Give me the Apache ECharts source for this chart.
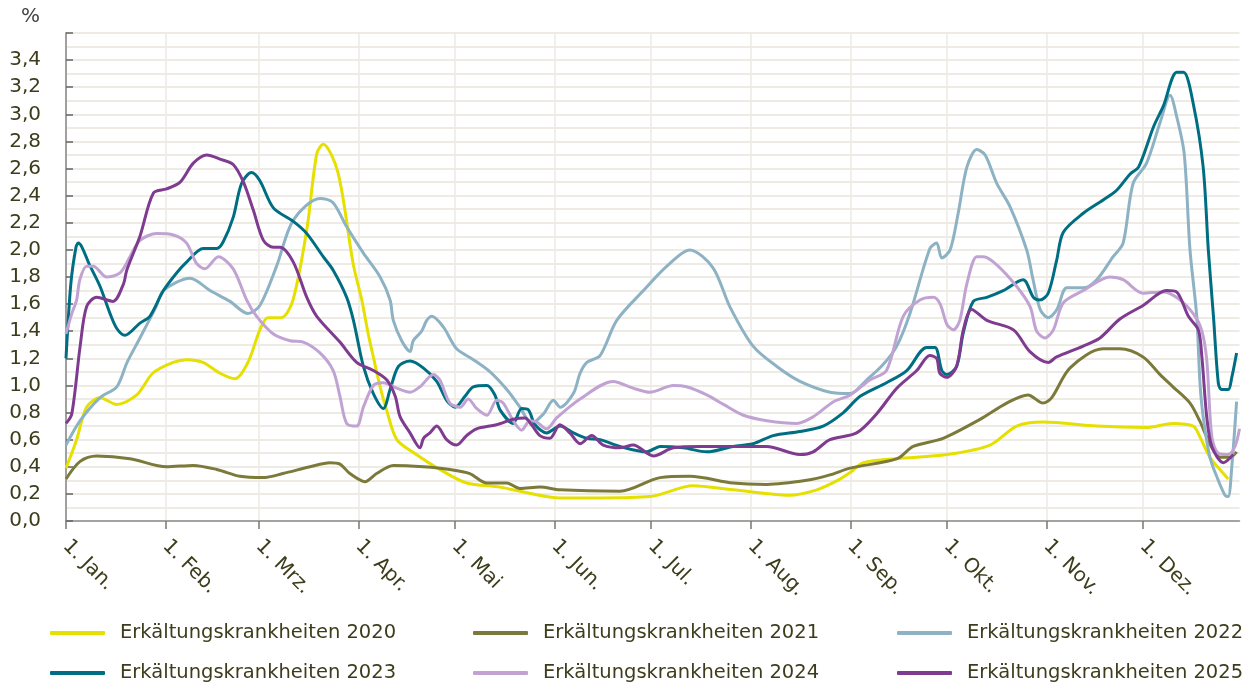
<!DOCTYPE html>
<html>
<head>
<meta charset="utf-8">
<script src="https://cdn.jsdelivr.net/npm/echarts@6/dist/echarts.min.js"></script>
<style>
  html, body { margin: 0; padding: 0; background: #fff; }
  #chart { width: 1254px; height: 690px; }
</style>
</head>
<body>
<div id="chart"></div>
<script>
// x = Tag im Jahr (0 = 1. Jan.), y = Anteil in %
const monthStarts = [0, 31, 60, 91, 121, 152, 182, 213, 244, 274, 305, 335];
const monthLabels = ['1. Jan.', '1. Feb.', '1. Mrz.', '1. Apr.', '1. Mai', '1. Jun.',
  '1. Jul.', '1. Aug.', '1. Sep.', '1. Okt.', '1. Nov.', '1. Dez.'];

const seriesNames = ['Erkältungskrankheiten 2020', 'Erkältungskrankheiten 2021', 'Erkältungskrankheiten 2022',
  'Erkältungskrankheiten 2023', 'Erkältungskrankheiten 2024', 'Erkältungskrankheiten 2025'];
const seriesColors = ['#e5e000', '#7b7a3a', '#8cb2c4', '#006e82', '#c1a3d3', '#7e3b8f'];

const y2020 = [[0,0.39],[3.3,0.6],[6.4,0.84],[10.6,0.91],[15.8,0.86],[22,0.93],[27,1.09],[33.3,1.17],[37.5,1.19],[42.6,1.17],[47.9,1.09],[52.6,1.05],[56.6,1.17],[60.3,1.41],[62.8,1.5],[67,1.5],[70.6,1.63],[74.9,2.15],[78,2.71],[80,2.78],[84.6,2.57],[89.3,1.9],[92,1.63],[94,1.38],[95.6,1.21],[97.7,0.99],[99.7,0.82],[102.9,0.6],[108.4,0.5],[116.3,0.38],[124.6,0.28],[135,0.25],[143,0.21],[153.6,0.17],[166,0.17],[181.6,0.18],[195,0.26],[207.5,0.23],[225,0.19],[233.5,0.23],[240,0.3],[244,0.36],[248,0.43],[258.5,0.46],[274,0.49],[287.4,0.56],[295.7,0.7],[304,0.73],[320.6,0.7],[336,0.69],[344.3,0.72],[350.6,0.7],[352.7,0.62],[355.8,0.47],[358.9,0.38],[361.5,0.31]];

const y2021 = [[0,0.31],[4.4,0.44],[9.5,0.48],[19.9,0.46],[31.3,0.4],[39.6,0.41],[46.9,0.38],[54.1,0.33],[61.3,0.32],[67.5,0.35],[75.9,0.4],[82.1,0.43],[85.2,0.42],[88.3,0.35],[93,0.29],[96.6,0.35],[101.8,0.41],[111.2,0.4],[119.4,0.38],[125.6,0.35],[130.9,0.28],[137.1,0.28],[141.2,0.24],[147.4,0.25],[153.6,0.23],[172.3,0.22],[184.8,0.32],[194,0.33],[207.5,0.28],[218,0.27],[230.4,0.3],[237.6,0.34],[243.9,0.39],[258.5,0.46],[263.5,0.55],[272.8,0.61],[284.3,0.75],[292.6,0.87],[299.2,0.93],[303.9,0.87],[306.6,0.91],[312.3,1.13],[322.5,1.27],[327.8,1.27],[335,1.21],[340.3,1.08],[344.3,0.99],[349.6,0.87],[352.6,0.74],[354.8,0.62],[356.9,0.52],[359,0.47],[362.1,0.47],[364.1,0.51]];

const y2022 = [[0,0.56],[4.4,0.74],[10.6,0.91],[15.8,0.99],[19,1.17],[23,1.35],[28,1.58],[30.3,1.7],[38.6,1.79],[44.8,1.7],[51,1.62],[56.6,1.53],[60.3,1.59],[65.5,1.88],[70.7,2.22],[79,2.38],[83,2.35],[87.3,2.17],[92.4,1.98],[97.7,1.8],[100.8,1.63],[101.8,1.48],[104.4,1.33],[107,1.25],[108,1.33],[110.6,1.4],[112.2,1.48],[113.8,1.51],[117.4,1.43],[121.5,1.27],[126.7,1.19],[131.9,1.1],[137.1,0.97],[141.2,0.84],[144.8,0.72],[148.5,0.79],[151.6,0.89],[153.7,0.84],[157.8,0.94],[159.9,1.09],[162,1.17],[166.1,1.22],[171.3,1.48],[179.6,1.7],[186.9,1.88],[194,2.0],[201.2,1.87],[206.5,1.58],[213.7,1.29],[221.1,1.14],[228.3,1.03],[237.6,0.95],[243.9,0.94],[249,1.04],[254,1.15],[258.4,1.29],[262.5,1.53],[268.7,2.01],[270.8,2.05],[272.4,1.94],[275,2.0],[277.5,2.27],[280.2,2.61],[283.3,2.74],[285.9,2.7],[289.5,2.49],[293.6,2.32],[298.8,2.0],[300.8,1.78],[303,1.56],[305.5,1.5],[308.2,1.56],[311.3,1.72],[316.4,1.72],[320.6,1.78],[325.7,1.95],[328.8,2.05],[331.9,2.49],[336.1,2.64],[340.3,2.94],[343.4,3.14],[345.5,2.98],[347.8,2.71],[349.6,2.0],[351.7,1.51],[352.7,1.02],[353.7,0.77],[355.8,0.47],[358.4,0.3],[360.5,0.19],[361.5,0.18],[362.6,0.4],[364.1,0.88]];

const y2023 = [[0,1.2],[1.5,1.75],[3.1,2.02],[3.8,2.05],[7.5,1.88],[10.6,1.73],[13.7,1.53],[15.8,1.42],[18.3,1.37],[23,1.46],[26.1,1.51],[30.3,1.7],[34.4,1.83],[37.5,1.91],[42.7,2.01],[46.9,2.01],[48.9,2.06],[52,2.24],[54.6,2.49],[57.7,2.57],[60.3,2.51],[64.5,2.31],[70.7,2.21],[74.9,2.12],[80,1.95],[83.1,1.85],[87.3,1.65],[89.4,1.48],[92.5,1.14],[95.6,0.94],[98.7,0.83],[100.8,0.97],[103.4,1.14],[107,1.18],[111.1,1.13],[115.3,1.03],[118.4,0.89],[121,0.84],[124.1,0.92],[126.7,0.99],[130.9,1.0],[133.4,0.93],[135,0.82],[139.1,0.72],[141.7,0.83],[143.8,0.82],[145.9,0.71],[149.5,0.65],[153.7,0.7],[157.8,0.65],[161.9,0.61],[166.1,0.6],[172.3,0.55],[180.6,0.51],[184.8,0.55],[192,0.54],[199.3,0.51],[207.5,0.55],[213.7,0.57],[220,0.63],[228.3,0.66],[235.5,0.7],[241.8,0.8],[247,0.92],[255.2,1.02],[261.5,1.11],[267.7,1.28],[270.3,1.28],[272.4,1.11],[273.9,1.08],[277,1.14],[279.1,1.39],[282.2,1.62],[286.4,1.65],[291.5,1.7],[297.7,1.78],[300.9,1.65],[302.9,1.63],[305.5,1.68],[308.1,1.92],[310.2,2.13],[316.4,2.27],[322.7,2.37],[326.8,2.44],[331,2.56],[333.6,2.61],[338.3,2.91],[341.3,3.06],[345.5,3.31],[347.6,3.31],[350.6,3.08],[353.7,2.61],[355.3,2.0],[356.9,1.51],[358.4,1.02],[359.4,0.97],[361.5,0.97],[362.6,1.06],[364.1,1.24]];

const y2024 = [[0,1.38],[1.8,1.53],[3.3,1.63],[4.3,1.78],[6.4,1.88],[8.5,1.88],[12.6,1.8],[16.8,1.83],[19.9,1.95],[23,2.07],[28.2,2.12],[33.4,2.11],[37.5,2.05],[40.6,1.9],[43.2,1.86],[47.4,1.95],[52,1.86],[56.2,1.63],[59.3,1.51],[64.5,1.38],[69.7,1.33],[73.8,1.32],[79,1.24],[83.1,1.11],[85.2,0.92],[87.3,0.72],[90.4,0.7],[92.5,0.84],[95.6,1.0],[98.7,1.02],[102.9,0.98],[107,0.95],[110.1,0.99],[114.3,1.08],[116.3,1.04],[119.4,0.87],[122.6,0.84],[125.1,0.9],[127.7,0.83],[130.9,0.78],[134,0.89],[136,0.87],[139.1,0.74],[141.7,0.67],[144.3,0.74],[146.4,0.73],[149.5,0.68],[152.6,0.76],[159.9,0.9],[170.2,1.03],[176.4,0.98],[181.6,0.95],[188.9,1.0],[193,0.99],[199.3,0.93],[204.5,0.86],[210.7,0.78],[218,0.74],[227.3,0.72],[232.5,0.77],[238.7,0.88],[244,0.93],[250,1.04],[255.2,1.11],[260.4,1.51],[265.6,1.63],[269.8,1.65],[271.9,1.6],[274,1.45],[276,1.41],[278,1.48],[280.2,1.75],[283.3,1.95],[285.4,1.95],[289.5,1.89],[295.7,1.73],[299.9,1.58],[301.9,1.4],[304.5,1.35],[307.1,1.41],[310.2,1.61],[316.4,1.7],[324.7,1.8],[328.8,1.78],[335,1.68],[341.2,1.69],[345.4,1.65],[350.6,1.53],[353.2,1.41],[354.8,1.19],[356.4,0.62],[358.4,0.5],[361.5,0.49],[363.6,0.55],[365,0.68]];

const y2025 = [[0,0.72],[1.8,0.79],[4.4,1.29],[6.4,1.58],[9.5,1.65],[14.6,1.62],[17.9,1.75],[18.9,1.85],[23,2.1],[27.2,2.42],[31.3,2.45],[35.5,2.5],[39.6,2.64],[43.8,2.7],[47.9,2.67],[52,2.63],[55.2,2.5],[58.3,2.29],[61.4,2.07],[64.5,2.02],[66.6,2.02],[70.7,1.91],[74.9,1.65],[78,1.51],[85.2,1.32],[90.4,1.17],[95.6,1.11],[99.8,1.04],[102.4,0.92],[103.9,0.77],[107,0.65],[110.1,0.54],[111.2,0.61],[113.2,0.65],[115.3,0.7],[118.4,0.6],[121.5,0.56],[124.6,0.63],[127.7,0.68],[133.9,0.71],[139.1,0.75],[142.8,0.76],[144.8,0.71],[147.4,0.63],[150.5,0.61],[153.6,0.71],[156.7,0.65],[159.9,0.57],[163.5,0.63],[167.1,0.56],[172.3,0.54],[176.4,0.56],[182.7,0.48],[188.9,0.54],[197.2,0.55],[207.5,0.55],[217.9,0.55],[228.3,0.49],[232.4,0.51],[237.6,0.6],[245.9,0.65],[252.1,0.79],[258.4,0.98],[264.6,1.11],[268.7,1.22],[270.8,1.2],[271.8,1.09],[273.9,1.06],[277,1.14],[279.1,1.41],[281.7,1.56],[286.4,1.48],[294.7,1.41],[299.8,1.25],[305.5,1.17],[308.1,1.21],[316.4,1.29],[321.6,1.35],[327.8,1.49],[335,1.59],[342.3,1.7],[345.4,1.69],[349.1,1.51],[352.2,1.41],[353.3,1.21],[354.8,0.77],[356.4,0.55],[360,0.43],[363.1,0.49]];

const seriesData = [y2020, y2021, y2022, y2023, y2024, y2025];

const FONT = "'DejaVu Sans', sans-serif";
const txt = '#3d3d1c';
const gridCol = '#eeeae4';

const chart = echarts.init(document.getElementById('chart'), null, { renderer: 'canvas' });

// Legende: 3 Spalten x 2 Zeilen, jede Position einzeln
const legendCols = [50, 473, 897];
const legendRows = [623, 663];
const legends = seriesNames.map((name, i) => ({
  left: legendCols[i % 3],
  top: legendRows[Math.floor(i / 3)],
  padding: 0,
  itemWidth: 55,
  itemHeight: 4,
  icon: 'roundRect',
  selectedMode: false,
  data: [name],
  textStyle: { fontFamily: FONT, fontSize: 19.5, color: txt, padding: [0, 0, 0, 10] }
}));

chart.setOption({
  animation: false,
  backgroundColor: '#fff',
  textStyle: { fontFamily: FONT },
  graphic: [{
    type: 'text', left: 21, top: 7,
    style: { text: '%', font: "20px 'DejaVu Sans', sans-serif", fill: '#444' }
  }],
  grid: { left: 66, right: 14.5, top: 33, bottom: 169 },
  legend: legends,
  xAxis: {
    type: 'value',
    min: 0,
    max: 365,
    axisLine: { show: true, lineStyle: { color: '#8c8c8c', width: 1.5 } },
    axisTick: { show: true, customValues: monthStarts, length: 8, lineStyle: { color: '#777', width: 1.5 } },
    axisLabel: {
      customValues: monthStarts,
      formatter: (v) => { const i = monthStarts.indexOf(Math.round(v)); return i >= 0 ? monthLabels[i] : ''; },
      rotate: -45,
      margin: 22,
      fontSize: 20,
      color: txt,
      fontFamily: FONT
    },
    splitLine: { show: true, lineStyle: { color: gridCol, width: 1.5 } }
  },
  yAxis: {
    type: 'value',
    min: 0,
    max: 3.6,
    interval: 0.2,
    axisLine: { show: true, lineStyle: { color: '#a0a0a0', width: 2 } },
    axisTick: { show: true, inside: true, length: 7, lineStyle: { color: '#666', width: 1.5 } },
    axisLabel: {
      formatter: (v) => v > 3.5 ? '' : v.toFixed(1).replace('.', ','),
      fontSize: 20,
      margin: 25,
      color: txt,
      fontFamily: FONT
    },
    splitLine: { show: true, lineStyle: { color: gridCol, width: 2 } },
    minorSplitLine: { show: true, lineStyle: { color: gridCol, width: 2 } },
    minorTick: { show: false, splitNumber: 2 }
  },
  series: seriesNames.map((name, i) => ({
    name,
    type: 'line',
    data: seriesData[i],
    smooth: 0.3,
    showSymbol: false,
    symbol: 'none',
    color: seriesColors[i],
    lineStyle: { width: 3, color: seriesColors[i] }
  }))
});
</script>
</body>
</html>
